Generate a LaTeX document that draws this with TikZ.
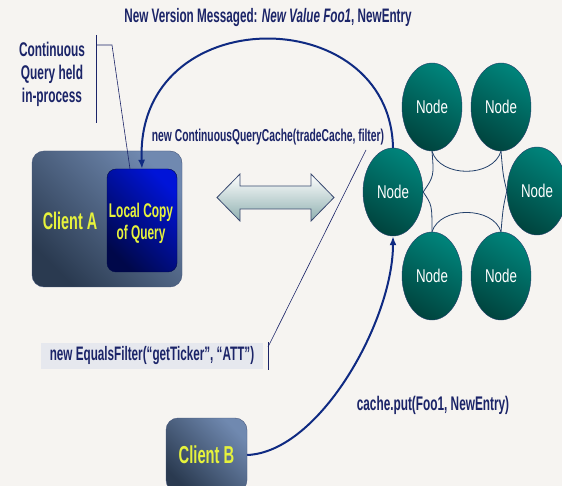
\documentclass[tikz,border=0pt]{standalone}
\usepackage{fontspec}
\usetikzlibrary{calc}
\usetikzlibrary{arrows.meta}
\usetikzlibrary{shapes.geometric}

\newfontfamily\narrowfont[FakeStretch=0.6]{Liberation Sans}
\newfontfamily\nodefont[FakeStretch=0.72]{Liberation Sans}

\definecolor{navy}{HTML}{1B2468}
\definecolor{arcblue}{HTML}{0F2A82}
\definecolor{clientlight}{HTML}{7089B0}
\definecolor{clientdark}{HTML}{2A3A50}
\definecolor{clientedge}{HTML}{44557A}
\definecolor{copylight}{HTML}{0014D8}
\definecolor{copydark}{HTML}{00084A}
\definecolor{yeltext}{HTML}{E6F23C}
\definecolor{teallight}{HTML}{00837A}
\definecolor{tealdark}{HTML}{00453F}
\definecolor{ringedge}{HTML}{23406A}
\definecolor{arrowtint}{HTML}{8FB0B0}
\definecolor{arrowedge}{HTML}{3A4A70}
\definecolor{filterfill}{HTML}{E6E8EE}
\definecolor{bgtone}{HTML}{F6F4F1}

\begin{document}
\begin{tikzpicture}[x=1pt,y=-1pt,
  lbl/.style={font=\narrowfont\bfseries, text=navy, inner sep=0pt},
  client/.style={draw=clientedge, rounded corners=12pt, top color=clientlight, bottom color=clientdark, shading angle=-45, text=yeltext},
  ring/.style={ellipse, minimum width=60, minimum height=88, inner sep=0pt, draw=ringedge, top color=teallight, bottom color=tealdark, shading angle=-30, text=white, font=\nodefont\fontsize{18.5}{18.5}\selectfont},
  link/.style={draw=ringedge, line width=0.8pt},
  flow/.style={draw=arcblue, line width=2pt, -{Latex[length=9pt,width=7pt]}},
  callout/.style={draw=navy, line width=0.6pt}]

\useasboundingbox (0,0) rectangle (562,486);
\clip (0,0) rectangle (562,486);
\fill[bgtone] (0,0) rectangle (562,486);

% clients
\node[client, minimum width=150, minimum height=136] (clientA) at (107,219) {};
\node[text=yeltext, inner sep=0pt, font=\narrowfont\bfseries\fontsize{24}{24}\selectfont] (nameA) at (70,221) {Client A};

\node[draw=copydark, rounded corners=9pt, top color=copylight, bottom color=copydark, shading angle=-45, minimum width=70, minimum height=103] (copy) at (142,220.5) {};
\node[text=yeltext, align=center, inner sep=0pt, font=\narrowfont\bfseries\fontsize{19.8}{22}\selectfont] (copytext) at (141,223.5) {Local Copy\\of Query};

\node[client, minimum width=81, minimum height=74, font=\narrowfont\bfseries\fontsize{24.5}{24.5}\selectfont] (clientB) at (206.5,455) {Client B};

% the cluster
\node[ring] (nTL) at (432,107) {Node};
\node[ring] (nTR) at (501,107) {Node};
\node[ring] (nLM) at (393,192) {Node};
\node[ring] (nRM) at (537,191) {Node};
\node[ring] (nBL) at (432,276) {Node};
\node[ring] (nBR) at (501,276) {Node};

\draw[link] (nTL.south) .. controls (440,178) and (493,178) .. (nTR.south);
\draw[link] (nTL.south) .. controls (434,176) .. (nLM.east);
\draw[link] (nLM.east) .. controls (432,205) .. (nBL.north);
\draw[link] (nBL.north) .. controls (440,206) and (493,206) .. (nBR.north);
\draw[link] (nTR.south) .. controls (503,175) .. (nRM.west);
\draw[link] (nRM.west) .. controls (503,208) .. (nBR.north);

% two way arrow
\coordinate (swapL) at (217,197.5);
\coordinate (swapR) at (334,197.5);
\draw[arrowedge, line width=0.8pt, top color=white, bottom color=arrowtint]
  (swapL) -- (240,174) -- (240,186) -- (311,186) -- (311,174) -- (swapR)
  -- (311,221) -- (311,209) -- (240,209) -- (240,221) -- cycle;

% messages
\draw[flow] (nLM.north) .. controls (390,0) and (135,0) .. (copy.north);
\draw[flow] (clientB.east) .. controls (320,452) and (393,320) .. (nLM.south);

\node[lbl, font=\narrowfont\bfseries\fontsize{19.5}{20}\selectfont] (title) at (268,18) {New Version Messaged: \textit{New Value Foo1}, NewEntry};
\node[lbl, font=\narrowfont\bfseries\fontsize{17.2}{18}\selectfont] (cqc) at (268,137) {new ContinuousQueryCache(tradeCache, filter)};
\node[lbl, font=\narrowfont\bfseries\fontsize{19.7}{20}\selectfont] (put) at (433,405) {cache.put(Foo1, NewEntry)};

% notes
\node[lbl, align=center, font=\narrowfont\bfseries\fontsize{19.8}{23}\selectfont] (cqnote) at (52,74) {Continuous\\Query held\\in-process};

\coordinate (brTop) at (96,35);
\coordinate (brBot) at (96,123);
\coordinate (brJoin) at (96,45);
\coordinate (brKnee) at (112,45);
\coordinate (brEnd) at (130,169);
\draw[callout] (brTop) -- (brBot);
\draw[callout] (brJoin) -- (brKnee) -- (brEnd);

\node[lbl, fill=filterfill, minimum width=222, minimum height=26, font=\narrowfont\bfseries\fontsize{19.5}{20}\selectfont] (filter) at (152,356) {new EqualsFilter(“getTicker”, “ATT”)};

\coordinate (fbTop) at (268,342);
\coordinate (fbBot) at (268,370);
\coordinate (fbJoin) at (268,347);
\coordinate (fbEnd) at (366,150);
\draw[callout] (fbTop) -- (fbBot);
\draw[callout] (fbJoin) -- (fbEnd);

\end{tikzpicture}
\end{document}
